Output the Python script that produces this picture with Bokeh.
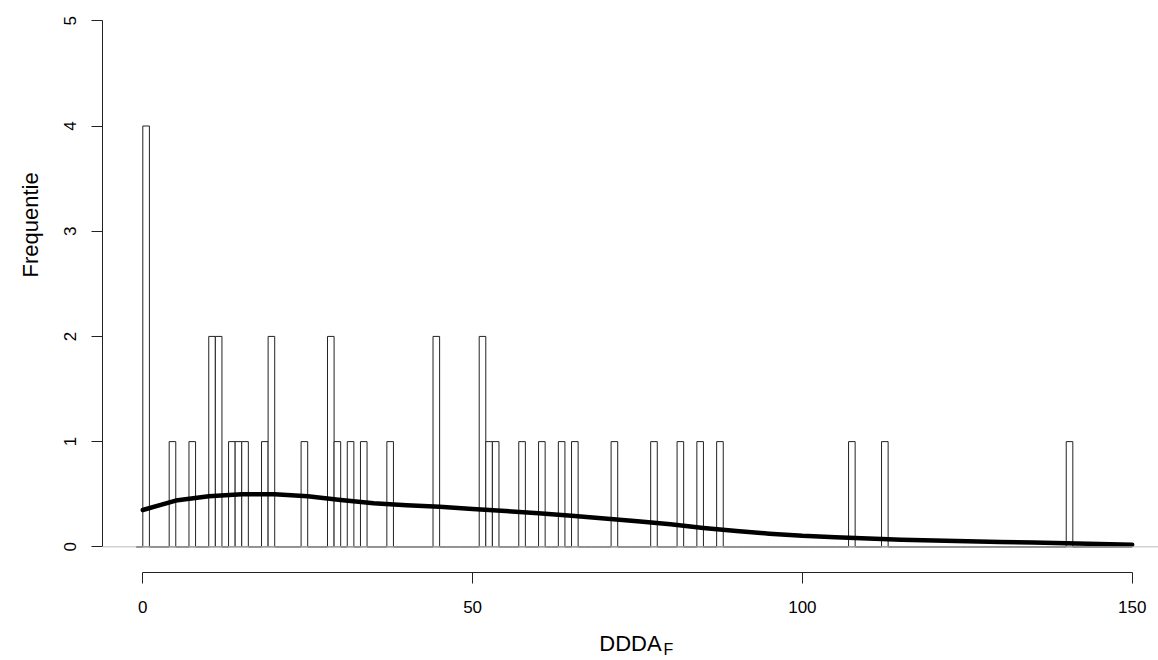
from bokeh.plotting import figure
from bokeh.models import (Range1d, FixedTicker, Span, ColumnDataSource, Title)
from bokeh.embed import file_html
from bokeh.resources import INLINE

# ---- data ----
# histogram: left edge of each non-empty unit-width bin, and its count
bin_left = [0, 4, 7, 10, 11, 13, 14, 15, 18, 19, 24, 28, 29, 31, 33, 37, 44,
            51, 52, 53, 57, 60, 63, 65, 71, 77, 81, 84, 87, 107, 112, 140]
bin_count = [4, 1, 1, 2, 2, 1, 1, 1, 1, 2, 1, 2, 1, 1, 1, 1, 2,
             2, 1, 1, 1, 1, 1, 1, 1, 1, 1, 1, 1, 1, 1, 1]
bin_width = 1
break_min, break_max = -1, 150

# smoothed density curve (scaled to frequency)
curve_x = [0, 5, 10, 15, 20, 25, 30, 35, 40, 45, 50, 55, 60, 65, 70, 75, 80,
           85, 90, 95, 100, 105, 110, 115, 120, 125, 130, 135, 140, 145, 150]
curve_y = [0.35, 0.44, 0.48, 0.50, 0.50, 0.48, 0.445, 0.415, 0.395, 0.38,
           0.36, 0.34, 0.32, 0.295, 0.27, 0.243, 0.215, 0.18, 0.15, 0.125,
           0.105, 0.092, 0.08, 0.068, 0.06, 0.053, 0.047, 0.04, 0.033,
           0.027, 0.02]

x_ticks = [0, 50, 100, 150]
y_ticks = [0, 1, 2, 3, 4, 5]
x_title = "DDDA"
x_title_sub = "F"
y_title = "Frequentie"

FONT = "Liberation Sans"
INK = "#222222"

# all bins, including empty ones (drawn flat, as R's hist does)
counts = {l: c for l, c in zip(bin_left, bin_count)}
all_left = list(range(break_min, break_max, bin_width))
all_count = [counts.get(l, 0) for l in all_left]
src = ColumnDataSource(dict(
    left=all_left,
    right=[l + bin_width for l in all_left],
    top=all_count,
    bottom=[0] * len(all_left),
))

p = figure(width=1158, height=660, output_backend="svg", toolbar_location=None,
           x_range=Range1d(-6.11, 153.99), y_range=Range1d(-0.244, 5.193),
           min_border_left=102, min_border_right=0, min_border_top=0,
           min_border_bottom=88)
p.outline_line_color = None
p.xgrid.visible = False
p.ygrid.visible = False
p.background_fill_color = "white"
p.border_fill_color = "white"

# baseline across the plot region
p.add_layout(Span(location=0, dimension="width", line_color="#bbbbbb",
                  line_width=1))

p.quad(left="left", right="right", top="top", bottom="bottom", source=src,
       fill_color="white", line_color=INK, line_width=1)

p.line(curve_x, curve_y, line_color="black", line_width=4.5,
       line_cap="round", line_join="round")

# main axes
xa = p.xaxis[0]
xa.ticker = FixedTicker(ticks=x_ticks)
xa.bounds = (x_ticks[0], x_ticks[-1])
xa.minor_tick_line_color = None
xa.major_tick_in = 0
xa.major_tick_out = 11
xa.axis_line_color = INK
xa.major_tick_line_color = INK
xa.major_label_standoff = 17
xa.major_label_text_font = FONT
xa.major_label_text_font_size = "17px"
xa.major_label_text_color = "black"
xa.axis_label = x_title
xa.axis_label_standoff = 15
xa.axis_label_text_font = FONT
xa.axis_label_text_font_size = "22px"
xa.axis_label_text_font_style = "normal"
xa.axis_label_text_color = "black"

ya = p.yaxis[0]
ya.ticker = FixedTicker(ticks=y_ticks)
ya.bounds = (y_ticks[0], y_ticks[-1])
ya.minor_tick_line_color = None
ya.major_tick_in = 0
ya.major_tick_out = 11
ya.axis_line_color = INK
ya.major_tick_line_color = INK
ya.major_label_orientation = "vertical"
ya.major_label_standoff = 15
ya.major_label_text_font = FONT
ya.major_label_text_font_size = "17px"
ya.major_label_text_color = "black"

# subscript of the x title
p.add_layout(Title(text=x_title_sub, align="left", offset=561, standoff=-35,
                   vertical_align="top",
                   text_font=FONT, text_font_size="16px",
                   text_font_style="normal", text_color="black"), "below")
# y title
p.add_layout(Title(text=y_title, align="left", offset=295, standoff=34,
                   vertical_align="top",
                   text_font=FONT, text_font_size="22px",
                   text_font_style="normal", text_color="black"), "left")

open("out.html", "w").write(file_html(p, INLINE))
